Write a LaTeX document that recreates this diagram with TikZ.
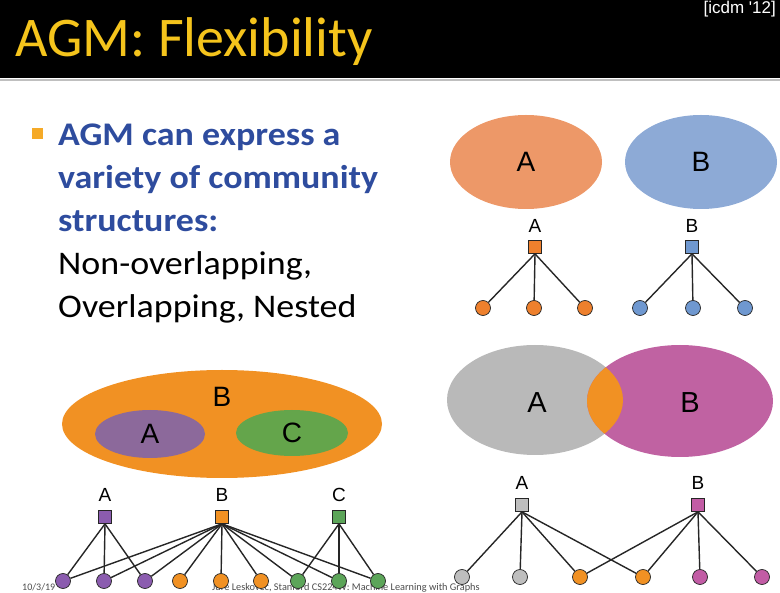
\documentclass[tikz,border=0pt]{standalone}
\usepackage{fontspec}
\setmainfont{Carlito}
\newfontfamily\bodyfont[FakeStretch=1.09]{Carlito}
\newfontfamily\arialfont{Liberation Sans}
\usetikzlibrary{shapes.geometric, positioning}
\definecolor{titleyellow}{RGB}{245,196,28}
\definecolor{bulletblue}{RGB}{46,76,158}
\definecolor{bulletorange}{RGB}{245,170,40}
\definecolor{salmon}{RGB}{237,152,104}
\definecolor{skyblue}{RGB}{141,170,214}
\definecolor{darkorange}{RGB}{241,145,35}
\definecolor{dullpurple}{RGB}{140,105,155}
\definecolor{leafgreen}{RGB}{100,165,75}
\definecolor{softgray}{RGB}{185,185,185}
\definecolor{pinkish}{RGB}{192,98,162}
\definecolor{nodeorange}{RGB}{238,128,45}
\definecolor{nodeblue}{RGB}{111,152,208}
\definecolor{nodepurple}{RGB}{139,92,175}
\definecolor{nodegreen}{RGB}{92,165,89}
\definecolor{nodegray}{RGB}{190,190,190}
\definecolor{nodemagenta}{RGB}{194,92,165}

\begin{document}
\begin{tikzpicture}[x=1pt, y=-1pt,
    comm/.style={draw=black!85, line width=0.7pt, minimum size=13pt, inner sep=0pt},
    member/.style={circle, draw=black!85, line width=0.7pt, minimum size=15pt, inner sep=0pt},
    blob/.style={ellipse, inner sep=0pt, font=\arialfont\fontsize{28}{28}\selectfont},
    small/.style={font=\arialfont\fontsize{19}{19}\selectfont, inner sep=0pt},
    tie/.style={line width=1.4pt, draw=black!85},
    bullettext/.style={anchor=base west, inner sep=0pt, font=\bodyfont\bfseries\fontsize{33}{33}\selectfont, text=bulletblue},
    plaintext/.style={anchor=base west, inner sep=0pt, font=\bodyfont\fontsize{33}{33}\selectfont}]
        \useasboundingbox (0,0) rectangle (780,593);

        \fill[black] (0,0) rectangle (780,78);
        \draw[line width=2pt, gray!50] (0,80.5) -- (780,80.5);
        \node[anchor=base west, inner sep=0pt, text=titleyellow, font=\fontsize{56}{56}\selectfont]
        (title) at (15,57) {AGM: Flexibility};
        \node[anchor=north east, inner sep=0pt, text=white, font=\arialfont\fontsize{17}{17}\selectfont]
        (cite) at (776,1) {[icdm '12]};

        \node[anchor=base west, inner sep=0pt, text=black!70, font=\fontsize{10}{10}\selectfont]
        (date) at (22,591) {10/3/19};
        \node[anchor=base west, inner sep=0pt, text=black!70, font=\fontsize{10.3}{10.3}\selectfont]
        (footer) at (212,591) {Jure Leskovec, Stanford CS224W: Machine Learning with Graphs};

        \fill[bulletorange] (32,128) rectangle (43,139);
        \node[bullettext] (line1) at (58,146) {AGM can express a};
        \node[bullettext] (line2) at (58,189) {variety of community};
        \node[bullettext] (line3) at (58,232) {structures:};
        \node[plaintext] (line4) at (58,275) {Non-overlapping,};
        \node[plaintext] (line5) at (58,318) {Overlapping, Nested};

        \node[blob, fill=salmon, minimum width=152pt, minimum height=94pt] (ovA) at (526,162) {A};
        \node[blob, fill=skyblue, minimum width=152pt, minimum height=94pt] (ovB) at (701,162) {B};

        \node[comm, fill=nodeorange] (sqA) at (535,247) {};
        \node[small, above=7pt of sqA] (labA) {A};
        \node[member, fill=nodeorange] (a1) at (483,308) {};
        \node[member, fill=nodeorange] (a2) at (534,308) {};
        \node[member, fill=nodeorange] (a3) at (585,308) {};
        \node[comm, fill=nodeblue] (sqB) at (692,247) {};
        \node[small, above=7pt of sqB] (labB) {B};
        \node[member, fill=nodeblue] (b1) at (640,308) {};
        \node[member, fill=nodeblue] (b2) at (693,308) {};
        \node[member, fill=nodeblue] (b3) at (745,308) {};
        \foreach \m in {a1,a2,a3} \draw[tie] (sqA.south) -- (\m);
        \foreach \m in {b1,b2,b3} \draw[tie] (sqB.south) -- (\m);

        \node[blob, fill=darkorange, minimum width=320pt, minimum height=108pt] (nestB) at (222,424) {};
        \node[blob, fill=dullpurple, minimum width=110pt, minimum height=48pt] (nestA) at (150,434) {A};
        \node[blob, fill=leafgreen, minimum width=112pt, minimum height=46pt] (nestC) at (292,433) {C};
        \node[font=\arialfont\fontsize{28}{28}\selectfont, inner sep=0pt] (nestlab) at (222,397) {B};

        \node[comm, fill=nodepurple] (nsA) at (105,517) {};
        \node[small, above=8pt of nsA] (nlabA) {A};
        \node[comm, fill=darkorange] (nsB) at (222,517) {};
        \node[small, above=8pt of nsB] (nlabB) {B};
        \node[comm, fill=nodegreen] (nsC) at (339,517) {};
        \node[small, above=8pt of nsC] (nlabC) {C};
        \node[member, fill=nodepurple] (n1) at (63,581) {};
        \node[member, fill=nodepurple] (n2) at (104,581) {};
        \node[member, fill=nodepurple] (n3) at (145,581) {};
        \node[member, fill=darkorange] (n4) at (180,581) {};
        \node[member, fill=darkorange] (n5) at (221,581) {};
        \node[member, fill=darkorange] (n6) at (261,581) {};
        \node[member, fill=nodegreen] (n7) at (298,581) {};
        \node[member, fill=nodegreen] (n8) at (339,581) {};
        \node[member, fill=nodegreen] (n9) at (378,581) {};
        \foreach \m in {n1,n2,n3} \draw[tie] (nsA.south) -- (\m);
        \foreach \m in {n1,n2,n3,n4,n5,n6,n7,n8,n9} \draw[tie] (nsB.south) -- (\m);
        \foreach \m in {n7,n8,n9} \draw[tie] (nsC.south) -- (\m);

        \node[blob, fill=softgray, minimum width=176pt, minimum height=110pt] (lapA) at (535,400) {};
        \node[blob, fill=pinkish, minimum width=186pt, minimum height=112pt] (lapB) at (680,401) {};
        \begin{scope}
            \clip (535,400) ellipse [x radius=88pt, y radius=55pt];
            \fill[darkorange] (680,401) ellipse [x radius=93pt, y radius=56pt];
        \end{scope}
        \node[font=\arialfont\fontsize{29}{29}\selectfont, inner sep=0pt] (laplabA) at (537,403) {A};
        \node[font=\arialfont\fontsize{29}{29}\selectfont, inner sep=0pt] (laplabB) at (690,403) {B};

        \node[comm, fill=nodegray] (olA) at (522,505) {};
        \node[small, above=8pt of olA] (olabA) {A};
        \node[comm, fill=nodemagenta] (olB) at (698,505) {};
        \node[small, above=8pt of olB] (olabB) {B};
        \node[member, fill=nodegray] (o1) at (462,577) {};
        \node[member, fill=nodegray] (o2) at (520,577) {};
        \node[member, fill=darkorange] (o3) at (580,577) {};
        \node[member, fill=darkorange] (o4) at (643,577) {};
        \node[member, fill=nodemagenta] (o5) at (700,577) {};
        \node[member, fill=nodemagenta] (o6) at (762,577) {};
        \foreach \m in {o1,o2,o3,o4} \draw[tie] (olA.south) -- (\m);
        \foreach \m in {o3,o4,o5,o6} \draw[tie] (olB.south) -- (\m);
    \end{tikzpicture}
\end{document}
